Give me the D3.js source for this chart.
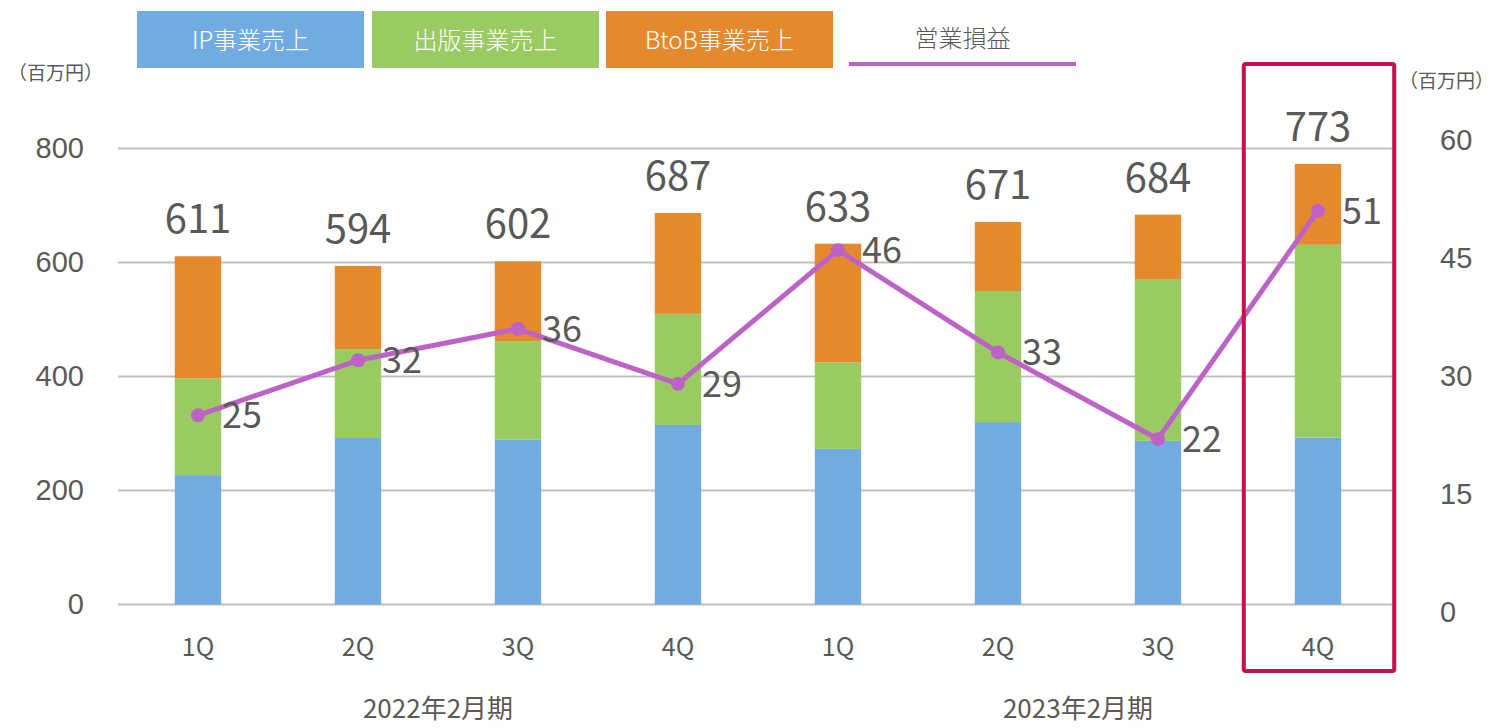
<!DOCTYPE html>
<html>
<head>
<meta charset="utf-8">
<script src="https://cdn.jsdelivr.net/npm/d3@7"></script>
<style>
  body { margin: 0; background: #fff; }
  svg { display: block; font-family: "Noto Sans CJK JP", "Noto Sans", sans-serif; }
</style>
</head>
<body>
<svg></svg>
<script>
let width = 1497, height = 728;

// data
const quarters = ["1Q", "2Q", "3Q", "4Q", "1Q", "2Q", "3Q", "4Q"];
const periods = ["2022年2月期", "2023年2月期"];
const ipSales = [227, 292, 289, 315, 273, 320, 287, 293];
const pubSales = [170, 156, 173, 195, 152, 230, 284, 338];
const btobSales = [214, 146, 140, 177, 208, 121, 113, 142];
const totals = [611, 594, 602, 687, 633, 671, 684, 773];
const opProfit = [25, 32, 36, 29, 46, 33, 22, 51];
const leftTicks = [0, 200, 400, 600, 800];
const rightTicks = [0, 15, 30, 45, 60];
const seriesNames = ["IP事業売上", "出版事業売上", "BtoB事業売上", "営業損益"];

const colors = ["#71ABE2", "#9ACB62", "#E5892E"];
const lineColor = "#BD63C8";
const textColor = "#595959";

let svg = d3.select("svg")
    .attr("width", width)
    .attr("height", height);

const idx = d3.range(quarters.length);

let x = d3.scaleBand()
    .domain(idx)
    .range([118, 1398])
    .paddingInner(0.71)
    .paddingOuter(0.355);

let y = d3.scaleLinear().domain([0, 800]).range([604.5, 148.5]);
// the secondary axis in the original is laid out a bit taller than the primary one
let y2 = d3.scaleLinear().domain([0, 60]).range([612, 140]);

// gridlines
svg.append("g")
    .selectAll("line")
    .data(leftTicks)
    .enter()
    .append("line")
    .attr("x1", 118)
    .attr("x2", 1396)
    .attr("y1", d => y(d))
    .attr("y2", d => y(d))
    .attr("stroke", "#BFBFBF")
    .attr("stroke-width", 2);

// left axis labels
const leftAxis = d3.axisLeft(y).tickValues(leftTicks).tickSize(0).tickPadding(0);
svg.append("g")
    .attr("transform", "translate(84,0)")
    .call(leftAxis)
    .call(g => g.select(".domain").remove())
    .selectAll("text")
    .attr("fill", textColor)
    .attr("font-size", "29px")
    .attr("font-family", "inherit");

// right axis labels
const rightAxis = d3.axisRight(y2).tickValues(rightTicks).tickSize(0).tickPadding(0);
svg.append("g")
    .attr("transform", "translate(1440,0)")
    .call(rightAxis)
    .call(g => g.select(".domain").remove())
    .selectAll("text")
    .attr("fill", textColor)
    .attr("font-size", "29px")
    .attr("font-family", "inherit");

// stacked bars
const stackData = idx.map(i => ({ip: ipSales[i], pub: pubSales[i], btob: btobSales[i]}));
const stack = d3.stack().keys(["ip", "pub", "btob"]);
const layers = stack(stackData);

svg.append("g")
    .selectAll("g")
    .data(layers)
    .enter()
    .append("g")
    .attr("fill", (d, i) => colors[i])
    .selectAll("rect")
    .data(d => d)
    .enter()
    .append("rect")
    .attr("x", (d, i) => x(i))
    .attr("width", x.bandwidth())
    .attr("y", d => y(d[1]))
    .attr("height", d => y(d[0]) - y(d[1]));

// total labels
svg.append("g")
    .selectAll("text")
    .data(totals)
    .enter()
    .append("text")
    .attr("x", (d, i) => x(i) + x.bandwidth() / 2)
    .attr("y", d => y(d) - 23)
    .attr("text-anchor", "middle")
    .attr("fill", textColor)
    .attr("font-size", "40px")
    .text(d => d);

// operating profit line
const line = d3.line()
    .x((d, i) => x(i) + x.bandwidth() / 2)
    .y(d => y2(d));

svg.append("path")
    .datum(opProfit)
    .attr("d", line)
    .attr("fill", "none")
    .attr("stroke", lineColor)
    .attr("stroke-width", 5)
    .attr("stroke-linejoin", "round");

svg.append("g")
    .selectAll("circle")
    .data(opProfit)
    .enter()
    .append("circle")
    .attr("cx", (d, i) => x(i) + x.bandwidth() / 2)
    .attr("cy", d => y2(d))
    .attr("r", 7)
    .attr("fill", lineColor);

svg.append("g")
    .selectAll("text")
    .data(opProfit)
    .enter()
    .append("text")
    .attr("x", (d, i) => x(i) + x.bandwidth() / 2 + 24)
    .attr("y", d => y2(d))
    .attr("dy", "0.36em")
    .attr("fill", textColor)
    .attr("font-size", "36px")
    .text(d => d);

// category labels
svg.append("g")
    .selectAll("text")
    .data(quarters)
    .enter()
    .append("text")
    .attr("x", (d, i) => x(i) + x.bandwidth() / 2)
    .attr("y", 656)
    .attr("text-anchor", "middle")
    .attr("fill", textColor)
    .attr("font-size", "25px")
    .text(d => d);

svg.append("g")
    .selectAll("text")
    .data(periods)
    .enter()
    .append("text")
    .attr("x", (d, i) => (x(i * 4) + x(i * 4 + 3) + x.bandwidth()) / 2)
    .attr("y", 718)
    .attr("text-anchor", "middle")
    .attr("fill", textColor)
    .attr("font-size", "26px")
    .text(d => d);

// units
svg.append("text")
    .attr("x", 8).attr("y", 80)
    .attr("fill", textColor)
    .attr("font-size", "19px")
    .text("（百万円）");
svg.append("text")
    .attr("x", 1494).attr("y", 88)
    .attr("text-anchor", "end")
    .attr("fill", textColor)
    .attr("font-size", "19px")
    .text("（百万円）");

// highlight box around the latest quarter
svg.append("rect")
    .attr("x", x(7) - 51)
    .attr("y", 64)
    .attr("width", x.bandwidth() + 104)
    .attr("height", 607)
    .attr("fill", "none")
    .attr("stroke", "#C3134B")
    .attr("stroke-width", 4)
    .attr("rx", 2);

// legend
const legend = svg.append("g");
const legendX = [137, 372, 606, 849];
const legendW = 227;

legend.selectAll("rect")
    .data(colors)
    .enter()
    .append("rect")
    .attr("x", (d, i) => legendX[i])
    .attr("y", 11)
    .attr("width", legendW)
    .attr("height", 57)
    .attr("fill", d => d);

legend.selectAll("text")
    .data(seriesNames)
    .enter()
    .append("text")
    .attr("x", (d, i) => legendX[i] + legendW / 2)
    .attr("y", (d, i) => i < 3 ? 49 : 47)
    .attr("text-anchor", "middle")
    .attr("fill", (d, i) => i < 3 ? "#fff" : textColor)
    .attr("font-size", "24px")
    .attr("font-weight", 300)
    .text(d => d);

legend.append("line")
    .attr("x1", legendX[3])
    .attr("x2", legendX[3] + legendW)
    .attr("y1", 64)
    .attr("y2", 64)
    .attr("stroke", lineColor)
    .attr("stroke-width", 4);
</script>
</body>
</html>
